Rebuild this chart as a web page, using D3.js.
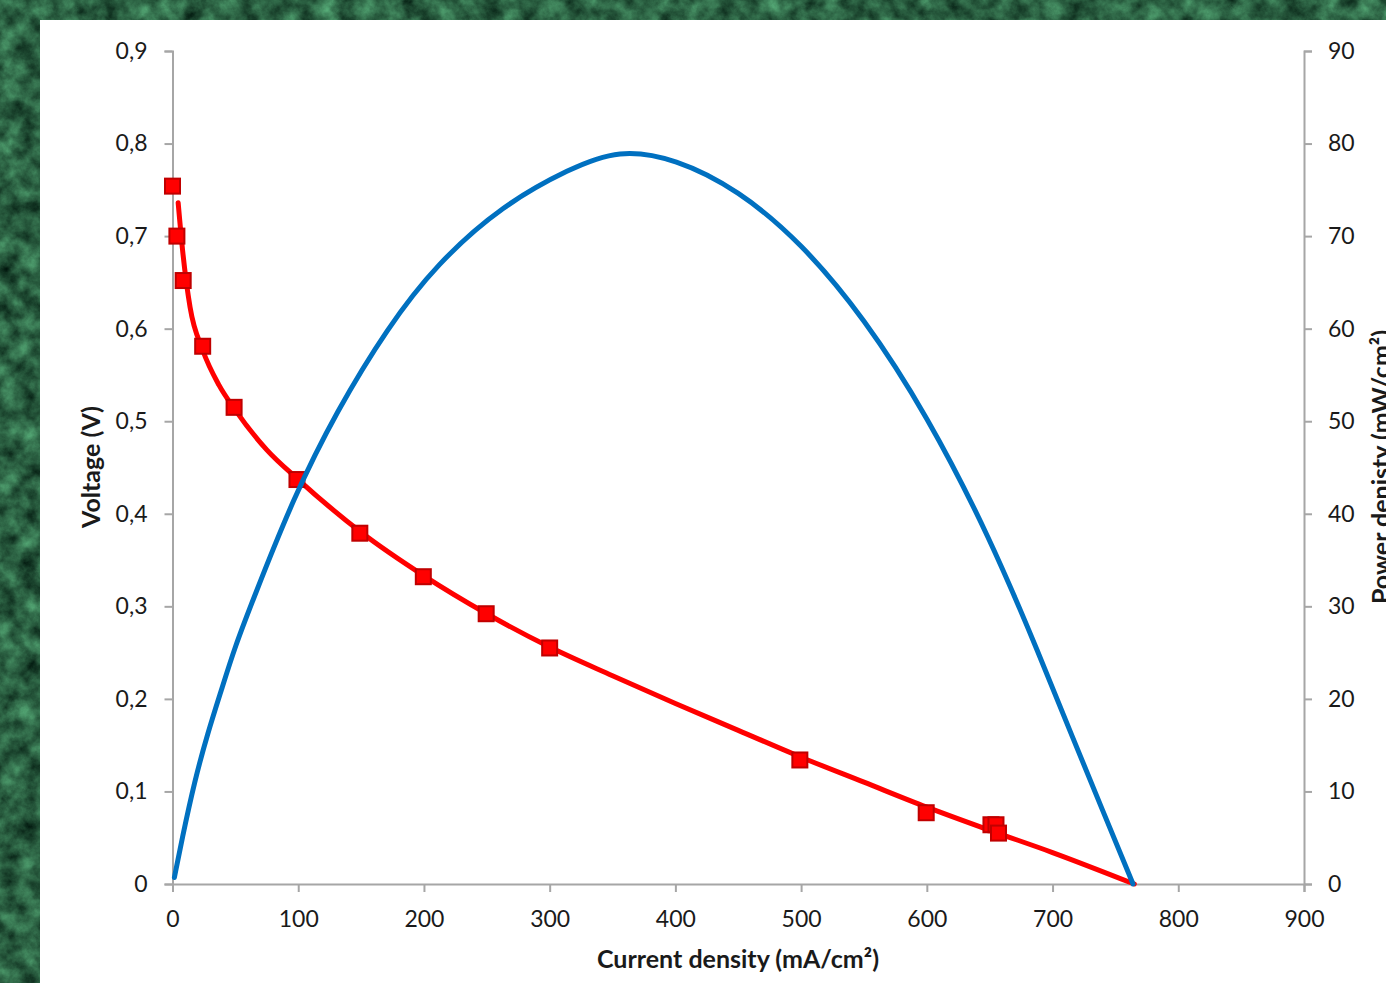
<!DOCTYPE html>
<html>
<head>
<meta charset="utf-8">
<script src="https://cdn.jsdelivr.net/npm/d3@7"></script>
<style>
  html, body { margin: 0; padding: 0; background: #2f6a4a; }
  svg { display: block; }
  text { font-family: Lato, "Open Sans", "Liberation Sans", sans-serif; fill: #1a1a1a; }
</style>
</head>
<body>
<svg id="chart" width="1386" height="983"></svg>
<script>
// ---------- Data ----------
const xTicks = [0, 100, 200, 300, 400, 500, 600, 700, 800, 900];
const yTicksLeft = [0, 0.1, 0.2, 0.3, 0.4, 0.5, 0.6, 0.7, 0.8, 0.9];
const yTicksRight = [0, 10, 20, 30, 40, 50, 60, 70, 80, 90];

// measured points (square markers): current density (mA/cm²) / voltage (V)
const measI = [0, 3.5, 8.5, 24, 49, 99, 149, 199.5, 249.5, 300, 499, 599.5, 651, 655, 657];
const measV = [0.754, 0.700, 0.652, 0.581, 0.515, 0.437, 0.379, 0.332, 0.292, 0.255, 0.134, 0.077, 0.064, 0.064, 0.055];

// fitted voltage curve (red line)
const fitI = [4.5, 8, 14, 24, 37, 50, 75, 100, 150, 200, 250, 300, 350, 400, 450, 500, 550, 600, 650, 700, 765];
const fitV = [0.736, 0.685, 0.623, 0.577, 0.539, 0.512, 0.469, 0.437, 0.380, 0.333, 0.292, 0.256, 0.225, 0.195, 0.166, 0.137, 0.110, 0.083, 0.058, 0.034, 0.0];

// power density curve (blue line): current density / power density (mW/cm²)
const powI = [1.5, 7.4, 17.7, 28, 39, 49.6, 64, 96, 131, 171, 210, 263, 316, 355, 400, 450, 500, 550, 600, 650, 690, 716, 740, 764];
const powP = [0.7, 4.75, 11.2, 16.3, 21.0, 25.6, 30.7, 41.7, 51.2, 60.1, 67.0, 73.4, 77.3, 79.4, 78.4, 75.0, 69.3, 61.2, 50.7, 37.5, 24.6, 15.8, 7.9, 0];

// ---------- Drawing ----------
const svg = d3.select("#chart");
const W = 1386, H = 983;

// marble background
const defs = svg.append("defs");
const f = defs.append("filter").attr("id", "marble")
  .attr("x", 0).attr("y", 0).attr("width", "100%").attr("height", "100%")
  .attr("color-interpolation-filters", "sRGB");
f.append("feTurbulence").attr("type", "fractalNoise")
  .attr("baseFrequency", "0.05").attr("numOctaves", 5).attr("seed", 7);
f.append("feColorMatrix").attr("type", "matrix")
  .attr("values", "0.40 0 0 0 -0.03  0.70 0 0 0 0.03  0.50 0 0 0 0.01  0 0 0 0 1");
svg.append("rect").attr("x", 0).attr("y", 0).attr("width", W).attr("height", H)
  .attr("fill", "#2f6a4a").attr("filter", "url(#marble)");

// white chart area
svg.append("rect").attr("x", 40).attr("y", 20).attr("width", W - 40).attr("height", H - 20)
  .attr("fill", "#ffffff");

const x = d3.scaleLinear().domain([0, 900]).range([172.5, 1304]);
const yL = d3.scaleLinear().domain([0, 0.9]).range([884, 51]);
const yR = d3.scaleLinear().domain([0, 90]).range([884, 51]);

const axisColor = "#a6a6a6";
const fmtComma = d => d === 0 ? "0" : d3.format(".1f")(d).replace(".", ",");

// x axis
const gx = svg.append("g").attr("transform", "translate(0,884)")
  .call(d3.axisBottom(x).tickValues(xTicks).tickSize(8).tickPadding(19).tickFormat(d3.format("d")));
// left axis
const gl = svg.append("g").attr("transform", "translate(172.5,0)")
  .call(d3.axisLeft(yL).tickValues(yTicksLeft).tickSize(8).tickPadding(17).tickFormat(fmtComma));
// right axis
const gr = svg.append("g").attr("transform", "translate(1304,0)")
  .call(d3.axisRight(yR).tickValues(yTicksRight).tickSize(8).tickPadding(16).tickFormat(d3.format("d")));

[gx, gl, gr].forEach(g => {
  g.select(".domain").attr("stroke", axisColor).attr("stroke-width", 2);
  g.selectAll(".tick line").attr("stroke", axisColor).attr("stroke-width", 2);
  g.selectAll(".tick text").attr("font-size", 23).attr("fill", "#1a1a1a")
    .style("font-family", "Lato, 'Open Sans', sans-serif");
});

// axis titles
svg.append("text").attr("x", 738).attr("y", 968).attr("text-anchor", "middle")
  .attr("font-size", 25).attr("font-weight", "bold").text("Current density (mA/cm²)");
svg.append("text").attr("transform", "translate(100,467) rotate(-90)").attr("text-anchor", "middle")
  .attr("font-size", 25).attr("font-weight", "bold").text("Voltage (V)");
svg.append("text").attr("transform", "translate(1390,467) rotate(-90)").attr("text-anchor", "middle")
  .attr("font-size", 25).attr("font-weight", "bold").text("Power denisty (mW/cm²)");

// red fitted curve
const fitData = fitI.map((d, i) => ({ i: d, v: fitV[i] }));
svg.append("path").datum(fitData)
  .attr("fill", "none").attr("stroke", "#ff0000").attr("stroke-width", 5)
  .attr("stroke-linecap", "round").attr("stroke-linejoin", "round")
  .attr("d", d3.line().x(d => x(d.i)).y(d => yL(d.v)).curve(d3.curveMonotoneX));

// markers
const measData = measI.map((d, i) => ({ i: d, v: measV[i] }));
const s = 15;
svg.append("g").selectAll("rect").data(measData).join("rect")
  .attr("x", d => x(d.i) - s / 2).attr("y", d => yL(d.v) - s / 2)
  .attr("width", s).attr("height", s)
  .attr("fill", "#ff0000").attr("stroke", "#c00000").attr("stroke-width", 2);

// blue power curve
const powData = powI.map((d, i) => ({ i: d, p: powP[i] }));
svg.append("path").datum(powData)
  .attr("fill", "none").attr("stroke", "#0070c0").attr("stroke-width", 5)
  .attr("stroke-linecap", "round").attr("stroke-linejoin", "round")
  .attr("d", d3.line().x(d => x(d.i)).y(d => yR(d.p)).curve(d3.curveBasis));
</script>
</body>
</html>
